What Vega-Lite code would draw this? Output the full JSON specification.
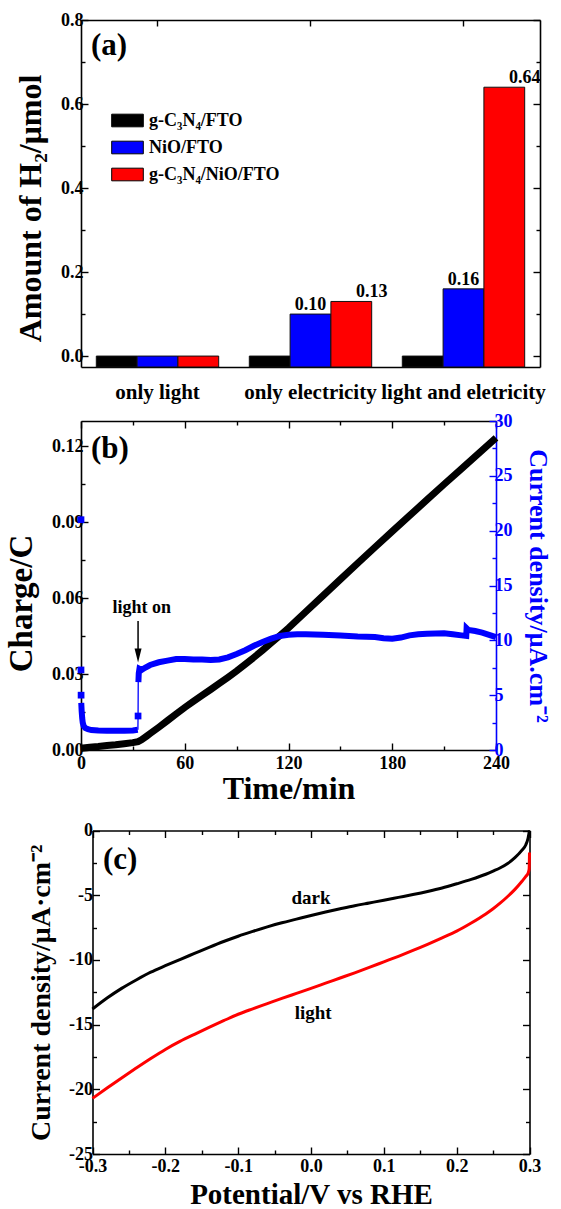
{
  "$schema": "https://vega.github.io/schema/vega-lite/v6.json",
  "padding": {"left": 5, "top": 11, "right": 0, "bottom": 0},
  "background": "white",
  "config": {
    "font": "Liberation Serif",
    "view": {"stroke": null},
    "axis": {"grid": false, "labelFlush": false, "labelOverlap": false, "labelFont": "Liberation Serif", "labelFontWeight": "bold", "labelFontSize": 18, "labelColor": "#000000", "titleFont": "Liberation Serif", "titleFontWeight": "bold", "titleColor": "#000000", "domainColor": "#000000", "domainWidth": 1.6, "tickColor": "#000000", "tickWidth": 1.4},
    "text": {"font": "Liberation Serif", "fontWeight": "bold", "color": "#000000"},
    "legend": {"labelFont": "Liberation Serif", "labelFontWeight": "bold"}
  },
  "datasets": {
    "bars": [
      {"condition": "only light", "sample": "g-C₃N₄/FTO", "amount": 0},
      {"condition": "only light", "sample": "NiO/FTO", "amount": 0},
      {"condition": "only light", "sample": "g-C₃N₄/NiO/FTO", "amount": 0},
      {"condition": "only electricity", "sample": "g-C₃N₄/FTO", "amount": 0},
      {"condition": "only electricity", "sample": "NiO/FTO", "amount": 0.10},
      {"condition": "only electricity", "sample": "g-C₃N₄/NiO/FTO", "amount": 0.13},
      {"condition": "light and eletricity", "sample": "g-C₃N₄/FTO", "amount": 0},
      {"condition": "light and eletricity", "sample": "NiO/FTO", "amount": 0.16},
      {"condition": "light and eletricity", "sample": "g-C₃N₄/NiO/FTO", "amount": 0.64}
    ],
    "charge": [
      {"t": 0, "q": 0.0007}, {"t": 5, "q": 0.0011}, {"t": 10, "q": 0.0014}, {"t": 15, "q": 0.0018}, {"t": 20, "q": 0.0021}, {"t": 25, "q": 0.0025}, {"t": 30, "q": 0.0029}, {"t": 33, "q": 0.0033}, {"t": 35, "q": 0.004}, {"t": 38, "q": 0.0055}, {"t": 40, "q": 0.0065}, {"t": 45, "q": 0.009}, {"t": 50, "q": 0.0116}, {"t": 55, "q": 0.0142}, {"t": 60, "q": 0.0168}, {"t": 65, "q": 0.0192}, {"t": 70, "q": 0.0216}, {"t": 75, "q": 0.0239}, {"t": 80, "q": 0.0263}, {"t": 85, "q": 0.0287}, {"t": 90, "q": 0.0312}, {"t": 95, "q": 0.0339}, {"t": 100, "q": 0.0366}, {"t": 105, "q": 0.0394}, {"t": 110, "q": 0.0423}, {"t": 115, "q": 0.0452}, {"t": 120, "q": 0.0482}, {"t": 130, "q": 0.0546}, {"t": 140, "q": 0.061}, {"t": 150, "q": 0.0674}, {"t": 160, "q": 0.0738}, {"t": 170, "q": 0.0801}, {"t": 180, "q": 0.0864}, {"t": 190, "q": 0.0926}, {"t": 200, "q": 0.0988}, {"t": 210, "q": 0.105}, {"t": 220, "q": 0.1111}, {"t": 230, "q": 0.1172}, {"t": 240, "q": 0.1233}
    ],
    "current": [
      {"part": "thick", "seg": "dark", "t": 0.15, "j": 4.3}, {"part": "thick", "seg": "dark", "t": 0.4, "j": 3.5}, {"part": "thick", "seg": "dark", "t": 0.7, "j": 2.9}, {"part": "thick", "seg": "dark", "t": 1.0, "j": 2.5}, {"part": "thick", "seg": "dark", "t": 1.5, "j": 2.2}, {"part": "thick", "seg": "dark", "t": 2.5, "j": 2.0}, {"part": "thick", "seg": "dark", "t": 4, "j": 1.9}, {"part": "thick", "seg": "dark", "t": 6, "j": 1.82}, {"part": "thick", "seg": "dark", "t": 10, "j": 1.77}, {"part": "thick", "seg": "dark", "t": 15, "j": 1.75}, {"part": "thick", "seg": "dark", "t": 20, "j": 1.75}, {"part": "thick", "seg": "dark", "t": 25, "j": 1.76}, {"part": "thick", "seg": "dark", "t": 30, "j": 1.78}, {"part": "thick", "seg": "dark", "t": 32.8, "j": 1.85},
      {"part": "thick", "seg": "light", "t": 33.2, "j": 6.2}, {"part": "thick", "seg": "light", "t": 33.4, "j": 7.0}, {"part": "thick", "seg": "light", "t": 33.8, "j": 7.4}, {"part": "thick", "seg": "light", "t": 35, "j": 7.3}, {"part": "thick", "seg": "light", "t": 37, "j": 7.5}, {"part": "thick", "seg": "light", "t": 40, "j": 7.75}, {"part": "thick", "seg": "light", "t": 45, "j": 8.0}, {"part": "thick", "seg": "light", "t": 50, "j": 8.15}, {"part": "thick", "seg": "light", "t": 55, "j": 8.3}, {"part": "thick", "seg": "light", "t": 60, "j": 8.3}, {"part": "thick", "seg": "light", "t": 65, "j": 8.25}, {"part": "thick", "seg": "light", "t": 70, "j": 8.25}, {"part": "thick", "seg": "light", "t": 75, "j": 8.2}, {"part": "thick", "seg": "light", "t": 80, "j": 8.25}, {"part": "thick", "seg": "light", "t": 85, "j": 8.45}, {"part": "thick", "seg": "light", "t": 90, "j": 8.75}, {"part": "thick", "seg": "light", "t": 95, "j": 9.1}, {"part": "thick", "seg": "light", "t": 100, "j": 9.5}, {"part": "thick", "seg": "light", "t": 105, "j": 9.85}, {"part": "thick", "seg": "light", "t": 110, "j": 10.15}, {"part": "thick", "seg": "light", "t": 115, "j": 10.4}, {"part": "thick", "seg": "light", "t": 120, "j": 10.5}, {"part": "thick", "seg": "light", "t": 125, "j": 10.55}, {"part": "thick", "seg": "light", "t": 130, "j": 10.55}, {"part": "thick", "seg": "light", "t": 140, "j": 10.5}, {"part": "thick", "seg": "light", "t": 150, "j": 10.45}, {"part": "thick", "seg": "light", "t": 160, "j": 10.35}, {"part": "thick", "seg": "light", "t": 170, "j": 10.3}, {"part": "thick", "seg": "light", "t": 175, "j": 10.2}, {"part": "thick", "seg": "light", "t": 180, "j": 10.15}, {"part": "thick", "seg": "light", "t": 185, "j": 10.25}, {"part": "thick", "seg": "light", "t": 190, "j": 10.45}, {"part": "thick", "seg": "light", "t": 195, "j": 10.55}, {"part": "thick", "seg": "light", "t": 200, "j": 10.6}, {"part": "thick", "seg": "light", "t": 210, "j": 10.65}, {"part": "thick", "seg": "light", "t": 215, "j": 10.55}, {"part": "thick", "seg": "light", "t": 220, "j": 10.45}, {"part": "thick", "seg": "light", "t": 222.8, "j": 10.4}, {"part": "thick", "seg": "light", "t": 223, "j": 11.1}, {"part": "thick", "seg": "light", "t": 224, "j": 10.95}, {"part": "thick", "seg": "light", "t": 228, "j": 10.85}, {"part": "thick", "seg": "light", "t": 232, "j": 10.7}, {"part": "thick", "seg": "light", "t": 236, "j": 10.5}, {"part": "thick", "seg": "light", "t": 240, "j": 10.3},
      {"part": "jump", "seg": "jump", "t": 32.9, "j": 1.85}, {"part": "jump", "seg": "jump", "t": 33.0, "j": 3.1}, {"part": "jump", "seg": "jump", "t": 33.1, "j": 6.2},
      {"part": "spike", "seg": "spike", "t": 0, "j": 21.0}, {"part": "spike", "seg": "spike", "t": 0, "j": 7.3}, {"part": "spike", "seg": "spike", "t": 0.05, "j": 5.0}, {"part": "spike", "seg": "spike", "t": 33, "j": 3.1}
    ],
    "iv": [
      {"cond": "dark", "v": -0.30, "j": -13.8}, {"cond": "dark", "v": -0.28, "j": -12.95}, {"cond": "dark", "v": -0.26, "j": -12.2}, {"cond": "dark", "v": -0.24, "j": -11.55}, {"cond": "dark", "v": -0.22, "j": -10.95}, {"cond": "dark", "v": -0.20, "j": -10.45}, {"cond": "dark", "v": -0.18, "j": -9.97}, {"cond": "dark", "v": -0.16, "j": -9.5}, {"cond": "dark", "v": -0.14, "j": -9.03}, {"cond": "dark", "v": -0.12, "j": -8.58}, {"cond": "dark", "v": -0.10, "j": -8.17}, {"cond": "dark", "v": -0.08, "j": -7.8}, {"cond": "dark", "v": -0.06, "j": -7.45}, {"cond": "dark", "v": -0.04, "j": -7.13}, {"cond": "dark", "v": -0.02, "j": -6.85}, {"cond": "dark", "v": 0.00, "j": -6.57}, {"cond": "dark", "v": 0.02, "j": -6.3}, {"cond": "dark", "v": 0.04, "j": -6.05}, {"cond": "dark", "v": 0.06, "j": -5.81}, {"cond": "dark", "v": 0.08, "j": -5.6}, {"cond": "dark", "v": 0.10, "j": -5.39}, {"cond": "dark", "v": 0.12, "j": -5.17}, {"cond": "dark", "v": 0.14, "j": -4.95}, {"cond": "dark", "v": 0.16, "j": -4.71}, {"cond": "dark", "v": 0.18, "j": -4.44}, {"cond": "dark", "v": 0.20, "j": -4.12}, {"cond": "dark", "v": 0.22, "j": -3.78}, {"cond": "dark", "v": 0.24, "j": -3.38}, {"cond": "dark", "v": 0.25, "j": -3.14}, {"cond": "dark", "v": 0.26, "j": -2.88}, {"cond": "dark", "v": 0.27, "j": -2.55}, {"cond": "dark", "v": 0.28, "j": -2.1}, {"cond": "dark", "v": 0.29, "j": -1.5}, {"cond": "dark", "v": 0.295, "j": -1.1}, {"cond": "dark", "v": 0.298, "j": -0.6}, {"cond": "dark", "v": 0.3, "j": 0},
      {"cond": "light", "v": -0.30, "j": -20.7}, {"cond": "light", "v": -0.28, "j": -19.9}, {"cond": "light", "v": -0.26, "j": -19.12}, {"cond": "light", "v": -0.24, "j": -18.36}, {"cond": "light", "v": -0.22, "j": -17.62}, {"cond": "light", "v": -0.20, "j": -16.92}, {"cond": "light", "v": -0.18, "j": -16.3}, {"cond": "light", "v": -0.16, "j": -15.75}, {"cond": "light", "v": -0.14, "j": -15.22}, {"cond": "light", "v": -0.12, "j": -14.7}, {"cond": "light", "v": -0.10, "j": -14.2}, {"cond": "light", "v": -0.08, "j": -13.78}, {"cond": "light", "v": -0.06, "j": -13.38}, {"cond": "light", "v": -0.04, "j": -12.98}, {"cond": "light", "v": -0.02, "j": -12.59}, {"cond": "light", "v": 0.00, "j": -12.2}, {"cond": "light", "v": 0.02, "j": -11.8}, {"cond": "light", "v": 0.04, "j": -11.4}, {"cond": "light", "v": 0.06, "j": -11.0}, {"cond": "light", "v": 0.08, "j": -10.58}, {"cond": "light", "v": 0.10, "j": -10.15}, {"cond": "light", "v": 0.12, "j": -9.72}, {"cond": "light", "v": 0.14, "j": -9.27}, {"cond": "light", "v": 0.16, "j": -8.8}, {"cond": "light", "v": 0.18, "j": -8.3}, {"cond": "light", "v": 0.20, "j": -7.78}, {"cond": "light", "v": 0.22, "j": -7.15}, {"cond": "light", "v": 0.24, "j": -6.45}, {"cond": "light", "v": 0.25, "j": -6.05}, {"cond": "light", "v": 0.26, "j": -5.6}, {"cond": "light", "v": 0.27, "j": -5.1}, {"cond": "light", "v": 0.28, "j": -4.55}, {"cond": "light", "v": 0.29, "j": -3.9}, {"cond": "light", "v": 0.295, "j": -3.55}, {"cond": "light", "v": 0.298, "j": -3.3}, {"cond": "light", "v": 0.2995, "j": -3.0}, {"cond": "light", "v": 0.3, "j": -1.7}
    ]
  },
  "vconcat": [
    {
      "width": 459,
      "height": 347,
      "layer": [
        {
          "data": {"name": "bars"},
          "mark": {"type": "bar", "stroke": "#111111", "strokeWidth": 1},
          "encoding": {
            "x": {"field": "condition", "type": "nominal", "scale": {"domain": ["only light", "only electricity", "light and eletricity"], "paddingInner": 0.2, "paddingOuter": 0.1}, "axis": {"orient": "bottom", "title": null, "labelAngle": 0, "labelFontSize": 21, "labelPadding": 20, "tickSize": -6}},
            "xOffset": {"field": "sample", "type": "nominal", "scale": {"domain": ["g-C₃N₄/FTO", "NiO/FTO", "g-C₃N₄/NiO/FTO"], "paddingInner": 0, "paddingOuter": 0}},
            "y": {"field": "amount", "type": "quantitative", "scale": {"domain": [-0.026, 0.8], "nice": false, "zero": false}, "axis": {"orient": "left", "values": [0, 0.1, 0.2, 0.3, 0.4, 0.5, 0.6, 0.7, 0.8], "format": ".1f", "labelExpr": "round(datum.value*10) % 2 == 0 ? datum.label : ''", "tickSize": {"condition": {"test": "round(datum.value*10) % 2 != 0", "value": -4}, "value": -7}, "labelPadding": 5, "title": "Amount of H₂/μmol", "titleFontSize": 32, "titlePadding": 13, "titleY": 188}},
            "y2": {"datum": -0.026},
            "color": {"field": "sample", "type": "nominal", "scale": {"domain": ["g-C₃N₄/FTO", "NiO/FTO", "g-C₃N₄/NiO/FTO"], "range": ["#000000", "#0000ff", "#ff0000"]}, "legend": {"title": null, "orient": "none", "legendX": 30, "legendY": 84, "symbolType": "M-1,-0.4H1V0.4H-1Z", "symbolSize": 1000, "symbolStrokeColor": "#000000", "symbolStrokeWidth": 1, "symbolOpacity": 1, "labelFontSize": 18, "labelOffset": 5, "rowPadding": 1, "padding": 0}}
          }
        },
        {
          "data": {"name": "bars"},
          "transform": [{"filter": "datum.amount > 0.05"}],
          "mark": {"type": "text", "baseline": "alphabetic", "dy": -4, "fontSize": 18},
          "encoding": {
            "x": {"field": "condition", "type": "nominal", "scale": {"domain": ["only light", "only electricity", "light and eletricity"], "paddingInner": 0.2, "paddingOuter": 0.1}, "axis": {"orient": "top", "labels": false, "title": null, "tickSize": -6}},
            "xOffset": {"field": "sample", "type": "nominal", "scale": {"domain": ["g-C₃N₄/FTO", "NiO/FTO", "g-C₃N₄/NiO/FTO"], "paddingInner": 0, "paddingOuter": 0}},
            "y": {"field": "amount", "type": "quantitative", "scale": {"domain": [-0.026, 0.8], "nice": false, "zero": false}, "axis": {"orient": "right", "labels": false, "title": null, "values": [0, 0.1, 0.2, 0.3, 0.4, 0.5, 0.6, 0.7, 0.8], "tickSize": {"condition": {"test": "round(datum.value*10) % 2 != 0", "value": -4}, "value": -7}}},
            "text": {"field": "amount", "type": "quantitative", "format": ".2f"}
          }
        },
        {
          "data": {"values": [{"px": 0.061, "py": 0.738, "tag": "(a)"}]},
          "mark": {"type": "text", "fontSize": 31, "baseline": "middle"},
          "encoding": {
            "x": {"field": "px", "type": "quantitative", "scale": {"domain": [0, 1], "nice": false}, "axis": null},
            "y": {"field": "py", "type": "quantitative", "scale": {"domain": [-0.026, 0.8], "nice": false, "zero": false}, "axis": null},
            "text": {"field": "tag"}
          }
        }
      ],
      "resolve": {"scale": {"x": "independent", "xOffset": "independent"}, "axis": {"x": "independent", "y": "independent"}}
    },
    {
      "width": 415,
      "height": 329,
      "layer": [
        {
          "data": {"name": "charge"},
          "mark": {"type": "line", "color": "#000000", "strokeWidth": 7},
          "encoding": {
            "x": {"field": "t", "type": "quantitative", "scale": {"domain": [0, 240], "nice": false}, "axis": {"orient": "bottom", "values": [0, 30, 60, 90, 120, 150, 180, 210, 240], "labelExpr": "datum.value % 60 == 0 ? datum.label : ''", "tickSize": {"condition": {"test": "datum.value % 60 != 0", "value": -4}, "value": -7}, "labelPadding": 11, "title": "Time/min", "titleFontSize": 32, "titlePadding": -2}},
            "y": {"field": "q", "type": "quantitative", "scale": {"domain": [0, 0.13], "nice": false}, "axis": {"orient": "left", "values": [0, 0.015, 0.03, 0.045, 0.06, 0.075, 0.09, 0.105, 0.12], "format": ".2f", "labelExpr": "round(datum.value*1000) % 30 == 0 ? datum.label : ''", "tickSize": {"condition": {"test": "round(datum.value*1000) % 30 != 0", "value": -4}, "value": -7}, "labelPadding": 5, "title": "Charge/C", "titleFontSize": 33, "titlePadding": 13, "titleY": 182}}
          }
        },
        {
          "data": {"name": "current"},
          "transform": [{"filter": "datum.part == 'thick'"}],
          "mark": {"type": "line", "color": "#0000ff", "strokeWidth": 6},
          "encoding": {
            "x": {"field": "t", "type": "quantitative", "scale": {"domain": [0, 240], "nice": false}, "axis": {"orient": "top", "values": [0, 30, 60, 90, 120, 150, 180, 210, 240], "labels": false, "title": null, "tickSize": {"condition": {"test": "datum.value % 60 != 0", "value": -4}, "value": -7}}},
            "y": {"field": "j", "type": "quantitative", "scale": {"domain": [0, 30], "nice": false}, "axis": {"orient": "right", "values": [0, 2.5, 5, 7.5, 10, 12.5, 15, 17.5, 20, 22.5, 25, 27.5, 30], "labelExpr": "datum.value % 5 == 0 ? datum.label : ''", "tickSize": {"condition": {"test": "datum.value % 5 != 0", "value": -4}, "value": -7}, "labelPadding": 5, "labelColor": "#0000ff", "domainColor": "#0000ff", "tickColor": "#0000ff", "title": "Current density/μA.cm⁻²", "titleColor": "#0000ff", "titleFontSize": 26, "titlePadding": 12}},
            "detail": {"field": "seg"}
          }
        },
        {
          "data": {"name": "current"},
          "transform": [{"filter": "datum.part == 'jump'"}],
          "mark": {"type": "line", "color": "#0000ff", "strokeWidth": 1.3},
          "encoding": {
            "x": {"field": "t", "type": "quantitative", "scale": {"domain": [0, 240], "nice": false}, "axis": null},
            "y": {"field": "j", "type": "quantitative", "scale": {"domain": [0, 30], "nice": false}, "axis": null}
          }
        },
        {
          "data": {"name": "current"},
          "transform": [{"filter": "datum.part == 'spike'"}],
          "mark": {"type": "point", "shape": "square", "filled": true, "color": "#0000ff", "size": 45, "opacity": 1},
          "encoding": {
            "x": {"field": "t", "type": "quantitative", "scale": {"domain": [0, 240], "nice": false}, "axis": null},
            "y": {"field": "j", "type": "quantitative", "scale": {"domain": [0, 30], "nice": false}, "axis": null}
          }
        },
        {
          "data": {"values": [{"t": 35.1, "q": 0.054, "tag": "light on"}]},
          "mark": {"type": "text", "fontSize": 18, "baseline": "alphabetic"},
          "encoding": {
            "x": {"field": "t", "type": "quantitative", "scale": {"domain": [0, 240], "nice": false}, "axis": null},
            "y": {"field": "q", "type": "quantitative", "scale": {"domain": [0, 0.13], "nice": false}, "axis": null},
            "text": {"field": "tag"}
          }
        },
        {
          "data": {"values": [{"t": 33, "q1": 0.051, "q2": 0.037}]},
          "mark": {"type": "rule", "color": "#000000", "strokeWidth": 1.5},
          "encoding": {
            "x": {"field": "t", "type": "quantitative", "scale": {"domain": [0, 240], "nice": false}, "axis": null},
            "y": {"field": "q1", "type": "quantitative", "scale": {"domain": [0, 0.13], "nice": false}, "axis": null},
            "y2": {"field": "q2"}
          }
        },
        {
          "data": {"values": [{"t": 33, "q": 0.0373}]},
          "mark": {"type": "point", "shape": "M-0.5,-1L0.5,-1L0,1Z", "filled": true, "color": "#000000", "size": 196, "opacity": 1},
          "encoding": {
            "x": {"field": "t", "type": "quantitative", "scale": {"domain": [0, 240], "nice": false}, "axis": null},
            "y": {"field": "q", "type": "quantitative", "scale": {"domain": [0, 0.13], "nice": false}, "axis": null}
          }
        },
        {
          "data": {"values": [{"t": 16.7, "q": 0.1188, "tag": "(b)"}]},
          "mark": {"type": "text", "fontSize": 31, "baseline": "middle"},
          "encoding": {
            "x": {"field": "t", "type": "quantitative", "scale": {"domain": [0, 240], "nice": false}, "axis": null},
            "y": {"field": "q", "type": "quantitative", "scale": {"domain": [0, 0.13], "nice": false}, "axis": null},
            "text": {"field": "tag"}
          }
        }
      ],
      "resolve": {"scale": {"y": "independent"}, "axis": {"x": "independent", "y": "independent"}}
    },
    {
      "width": 448.5,
      "height": 350,
      "layer": [
        {
          "data": {"name": "iv"},
          "mark": {"type": "line", "strokeWidth": 3, "interpolate": "monotone"},
          "encoding": {
            "x": {"field": "v", "type": "quantitative", "scale": {"domain": [-0.3, 0.3], "nice": false, "range": [11.5, 448.5]}, "axis": {"orient": "bottom", "values": [-0.3, -0.25, -0.2, -0.15, -0.1, -0.05, 0, 0.05, 0.1, 0.15, 0.2, 0.25, 0.3], "labelExpr": "round(datum.value*100) % 10 == 0 ? replace(format(datum.value, '.1f'), '\u2212', '-') : ''", "tickSize": {"condition": {"test": "round(datum.value*100) % 10 != 0", "value": -4}, "value": -7}, "labelPadding": 10, "title": "Potential/V vs RHE", "titleFontSize": 29, "titlePadding": 2}},
            "y": {"field": "j", "type": "quantitative", "scale": {"domain": [-25, 0], "nice": false, "range": [350, 26.5]}, "axis": {"orient": "left", "offset": -11.5, "values": [-25, -22.5, -20, -17.5, -15, -12.5, -10, -7.5, -5, -2.5, 0], "labelExpr": "datum.value % 5 == 0 ? replace(format(datum.value, 'd'), '\u2212', '-') : ''", "tickSize": {"condition": {"test": "datum.value % 5 != 0", "value": -4}, "value": -7}, "labelPadding": 7, "title": "Current density/μA·cm⁻²", "titleFontSize": 28, "titlePadding": 13}},
            "color": {"field": "cond", "type": "nominal", "scale": {"domain": ["dark", "light"], "range": ["#000000", "#ff0000"]}, "legend": null}
          }
        },
        {
          "data": {"values": [{"v": 0.0, "j": -5.2, "tag": "dark"}, {"v": 0.003, "j": -14.1, "tag": "light"}]},
          "mark": {"type": "text", "fontSize": 19, "baseline": "middle"},
          "encoding": {
            "x": {"field": "v", "type": "quantitative", "scale": {"domain": [-0.3, 0.3], "nice": false, "range": [11.5, 448.5]}, "axis": {"orient": "top", "offset": -26.5, "labels": false, "title": null, "values": [-0.3, -0.25, -0.2, -0.15, -0.1, -0.05, 0, 0.05, 0.1, 0.15, 0.2, 0.25, 0.3], "tickSize": {"condition": {"test": "round(datum.value*100) % 10 != 0", "value": -4}, "value": -7}}},
            "y": {"field": "j", "type": "quantitative", "scale": {"domain": [-25, 0], "nice": false, "range": [350, 26.5]}, "axis": {"orient": "right", "labels": false, "title": null, "values": [-25, -22.5, -20, -17.5, -15, -12.5, -10, -7.5, -5, -2.5, 0], "tickSize": {"condition": {"test": "datum.value % 5 != 0", "value": -4}, "value": -7}}},
            "text": {"field": "tag"}
          }
        },
        {
          "data": {"values": [{"v": -0.262, "j": -2.31, "tag": "(c)"}]},
          "mark": {"type": "text", "fontSize": 31, "baseline": "middle"},
          "encoding": {
            "x": {"field": "v", "type": "quantitative", "scale": {"domain": [-0.3, 0.3], "nice": false, "range": [11.5, 448.5]}, "axis": null},
            "y": {"field": "j", "type": "quantitative", "scale": {"domain": [-25, 0], "nice": false, "range": [350, 26.5]}, "axis": null},
            "text": {"field": "tag"}
          }
        }
      ],
      "resolve": {"axis": {"x": "independent", "y": "independent"}}
    }
  ],
  "resolve": {"scale": {"color": "independent"}},
  "spacing": 54,
  "bounds": "flush"
}
